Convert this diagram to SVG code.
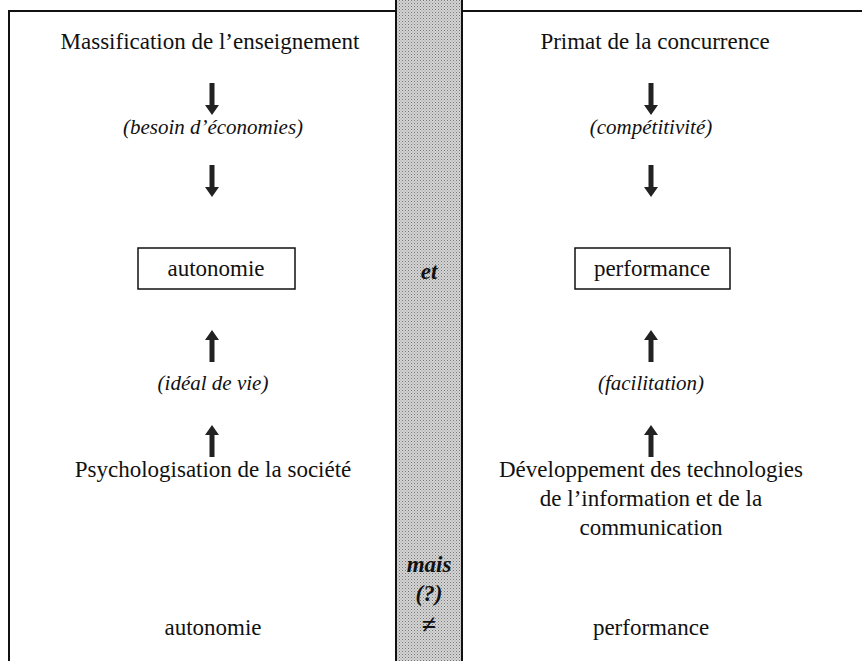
<svg xmlns="http://www.w3.org/2000/svg" width="862" height="661" viewBox="0 0 862 661">
<defs>
<pattern id="dots" width="3" height="3" patternUnits="userSpaceOnUse">
<rect width="3" height="3" fill="#d4d4d4"/>
<rect width="1" height="1" fill="#777"/>
<rect x="1.5" y="1.5" width="1" height="1" fill="#999"/>
</pattern>
<path id="adown" d="M-2.5,-16 H2.5 V6 H7 L0,16 L-7,6 H-2.5 Z"/>
</defs>
<style>
text{font-family:"Liberation Serif","Times New Roman",serif;font-size:23px;fill:#111;text-anchor:middle}
.it{font-style:italic;font-size:21px}
.bi{font-style:italic;font-weight:bold}
.frame{stroke:#111;stroke-width:2;fill:none}
.box{stroke:#111;stroke-width:1.5;fill:#fff}
.arr{fill:#222}
</style>
<rect width="862" height="661" fill="#fff"/>
<g id="frame">
<line class="frame" x1="8" y1="11" x2="862" y2="11"/>
<line class="frame" x1="9" y1="11" x2="9" y2="661"/>
</g>
<g id="band">
<rect x="396" y="0" width="66" height="661" fill="url(#dots)"/>
<line class="frame" x1="396" y1="0" x2="396" y2="661"/>
<line class="frame" x1="462" y1="0" x2="462" y2="661"/>
<text class="bi" x="429" y="279">et</text>
<text class="bi" x="429" y="572">mais</text>
<text class="bi" x="429" y="601">(?)</text>
<text x="429" y="633" style="font-size:26px;font-weight:bold">≠</text>
</g>
<g id="connectors">
<use href="#adown" class="arr" x="212" y="99"/>
<use href="#adown" class="arr" x="212" y="181"/>
<use href="#adown" class="arr" x="651" y="99"/>
<use href="#adown" class="arr" x="651" y="181"/>
<use href="#adown" class="arr" transform="translate(212,346) rotate(180)"/>
<use href="#adown" class="arr" transform="translate(212,441) rotate(180)"/>
<use href="#adown" class="arr" transform="translate(651,346) rotate(180)"/>
<use href="#adown" class="arr" transform="translate(651,441) rotate(180)"/>
</g>
<g id="massification"><text x="210" y="49">Massification de l’enseignement</text></g>
<g id="besoin"><text class="it" x="213" y="134">(besoin d’économies)</text></g>
<g id="autonomie"><rect class="box" x="138" y="248" width="157" height="41"/><text x="216" y="276">autonomie</text></g>
<g id="ideal"><text class="it" x="213" y="390">(idéal de vie)</text></g>
<g id="psycho"><text x="213" y="477">Psychologisation de la société</text></g>
<g id="autonomie2"><text x="213" y="635">autonomie</text></g>
<g id="primat"><text x="655" y="49">Primat de la concurrence</text></g>
<g id="compet"><text class="it" x="651" y="134">(compétitivité)</text></g>
<g id="performance"><rect class="box" x="575" y="248" width="155" height="41"/><text x="652" y="276">performance</text></g>
<g id="facil"><text class="it" x="651" y="390">(facilitation)</text></g>
<g id="tic"><text x="651" y="477">Développement des technologies</text><text x="651" y="506">de l’information et de la</text><text x="651" y="535">communication</text></g>
<g id="performance2"><text x="651" y="635">performance</text></g>
</svg>
